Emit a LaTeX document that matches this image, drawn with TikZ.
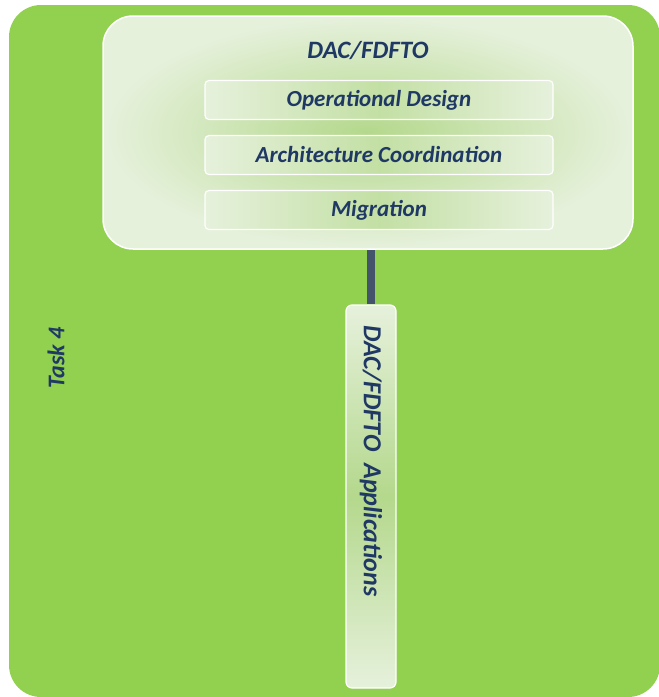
\documentclass[tikz,border=0pt]{standalone}
\usepackage{fontspec}
\setmainfont{Carlito}
\definecolor{taskgreen}{HTML}{92D050}
\definecolor{boxlight}{HTML}{E6F1DC}
\definecolor{boxmid}{HTML}{B4D88C}
\definecolor{navy}{HTML}{1F3864}
\definecolor{slate}{HTML}{44546A}
\tikzset{
  lbl/.style={text=navy, font=\bfseries\itshape},
  subbox/.style={draw=white, line width=1.2pt, rounded corners=4pt, minimum width=348pt, minimum height=39pt,
    left color=boxlight, right color=boxlight, middle color=boxmid!70!boxlight, lbl, font=\bfseries\itshape\fontsize{23}{26}\selectfont}
}
\begin{document}
\begin{tikzpicture}[x=1pt, y=-1pt]
  \useasboundingbox (0,0) rectangle (659,697);
  \fill[white] (0,0) rectangle (659,697);
  % background of the task
  \fill[taskgreen, rounded corners=32pt] (9,5) rectangle (660,697);
  \node (task) [lbl, rotate=90, font=\bfseries\itshape\fontsize{24}{26}\selectfont] at (56,358) {Task 4};
  % upper box
  \node (dac) [draw=white, line width=1.5pt, rounded corners=30pt, minimum width=530pt, minimum height=233pt,
    inner color=boxmid, outer color=boxlight] at (368,132.5) {};
  \node (title) [lbl, font=\bfseries\itshape\fontsize{25}{28}\selectfont] at (368,50) {DAC/FDFTO};
  \node (ops) [subbox] at (379,100) {Operational Design};
  \node (arch) [subbox] at (379,155) {Architecture Coordination};
  \node (mig) [subbox] at (379,210) {Migration};
  % applications box
  \node (apps) [draw=white, line width=1.2pt, rounded corners=6pt, minimum width=50pt, minimum height=383pt,
    top color=boxlight, bottom color=boxlight, middle color=boxmid] at (371,496.5) {};
  \node (appstext) [lbl, rotate=-90, font=\bfseries\itshape\fontsize{26}{28}\selectfont] at (371,461) {DAC/FDFTO\ \ Applications};
  \draw[slate, line width=8pt] (dac.south -| apps) -- (apps.north);
\end{tikzpicture}
\end{document}
